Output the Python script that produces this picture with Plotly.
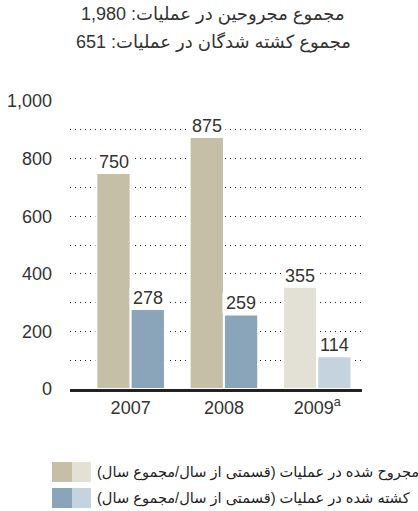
import plotly.graph_objects as go

# ---- data ----
years = ["2007", "2008", "2009"]
year_labels = ["2007", "2008", "2009<sup>a</sup>"]
wounded = [750, 875, 355]
killed = [278, 259, 114]

title_line1 = "مجموع مجروحین در عملیات: 1,980"
title_line2 = "مجموع کشته شدگان در عملیات: 651"
legend_wounded = "مجروح شده در عملیات (قسمتی از سال/مجموع سال)"
legend_killed = "کشته شده در عملیات (قسمتی از سال/مجموع سال)"

grid_values = list(range(0, 1001, 100))
grid_labels = [f"{v:,}" if v % 200 == 0 else "" for v in grid_values]

# ---- styles ----
wounded_colors = ["#c4bfa6", "#c4bfa6", "#e3e0d5"]
killed_colors = ["#8aa4b9", "#8aa4b9", "#c5d3de"]
TXT = "#333333"
FONT = "Liberation Sans, DejaVu Sans, Arial, sans-serif"
PAD = "\u2006"

W, H = 418, 511
ML, MR, MT, MB = 70, 56, 101, 122
PW = W - ML - MR
PH = H - MT - MB


def px_x(x):  # reference pixel -> paper
    return (x - ML) / PW


def px_y(y):
    return (H - MB - y) / PH


fig = go.Figure()
fig.add_trace(go.Bar(
    x=years, y=wounded, name="wounded",
    marker=dict(color=wounded_colors, line=dict(color="white", width=2)),
    hoverinfo="skip",
))
fig.add_trace(go.Bar(
    x=years, y=killed, name="killed",
    marker=dict(color=killed_colors, line=dict(color="white", width=2)),
    hoverinfo="skip",
))

# value labels with white backgrounds (mask the dotted grid)
slot_shift = 17
for i, yr in enumerate(years):
    for vals, sh in ((wounded, -slot_shift), (killed, slot_shift)):
        fig.add_annotation(
            x=i, y=vals[i], xref="x", yref="y", xshift=sh, yshift=0,
            text=PAD + str(vals[i]) + PAD, showarrow=False, yanchor="bottom",
            bgcolor="white", borderpad=0,
            font=dict(family=FONT, size=18, color=TXT),
        )

# titles
for txt, ypx in ((title_line1, 15), (title_line2, 42)):
    fig.add_annotation(
        x=px_x(213), y=px_y(ypx), xref="paper", yref="paper",
        text=txt, showarrow=False, xanchor="center", yanchor="middle",
        font=dict(family=FONT, size=18, color=TXT),
    )

# legend (two-tone swatches)
legend_rows = [
    (legend_wounded, wounded_colors[0], wounded_colors[2], 462, 482),
    (legend_killed, killed_colors[0], killed_colors[2], 488, 508),
]
for txt, c_dark, c_light, y0, y1 in legend_rows:
    fig.add_shape(type="rect", xref="paper", yref="paper",
                  x0=px_x(52), x1=px_x(72), y0=px_y(y1), y1=px_y(y0),
                  fillcolor=c_dark, line=dict(width=0))
    fig.add_shape(type="rect", xref="paper", yref="paper",
                  x0=px_x(72), x1=px_x(91), y0=px_y(y1), y1=px_y(y0),
                  fillcolor=c_light, line=dict(width=0))
    fig.add_annotation(
        x=px_x(95), y=px_y((y0 + y1) / 2), xref="paper", yref="paper",
        text=txt, showarrow=False, xanchor="left", yanchor="middle",
        font=dict(family=FONT, size=14.6, color="#222222"),
    )

fig.update_layout(
    width=W, height=H,
    margin=dict(l=ML, r=MR, t=MT, b=MB, pad=0, autoexpand=False),
    paper_bgcolor="white", plot_bgcolor="white",
    barmode="group", bargap=0.265, bargroupgap=0.0,
    showlegend=False,
    font=dict(family=FONT, color=TXT, size=18),
)
fig.update_xaxes(
    type="category", categoryorder="array", categoryarray=years,
    tickvals=years, ticktext=year_labels,
    range=[-0.65, 2.48], automargin=False,
    showline=True, linecolor="#222222", linewidth=3,
    showgrid=False, zeroline=False, ticks="",
    ticklabelstandoff=0,
    tickfont=dict(family=FONT, size=18, color=TXT),
)
fig.update_yaxes(
    range=[0, 1000], tickvals=grid_values, ticktext=grid_labels,
    automargin=False,
    showgrid=True, gridcolor="#222222", gridwidth=1, griddash="1px,4px",
    zeroline=False, ticks="", showline=False,
    ticklabelstandoff=17,
    tickfont=dict(family=FONT, size=18, color=TXT),
)

fig.write_html(
    "out.html",
    config={"displayModeBar": False},
    post_script="document.body.style.margin='0';document.body.style.overflow='hidden';",
)
